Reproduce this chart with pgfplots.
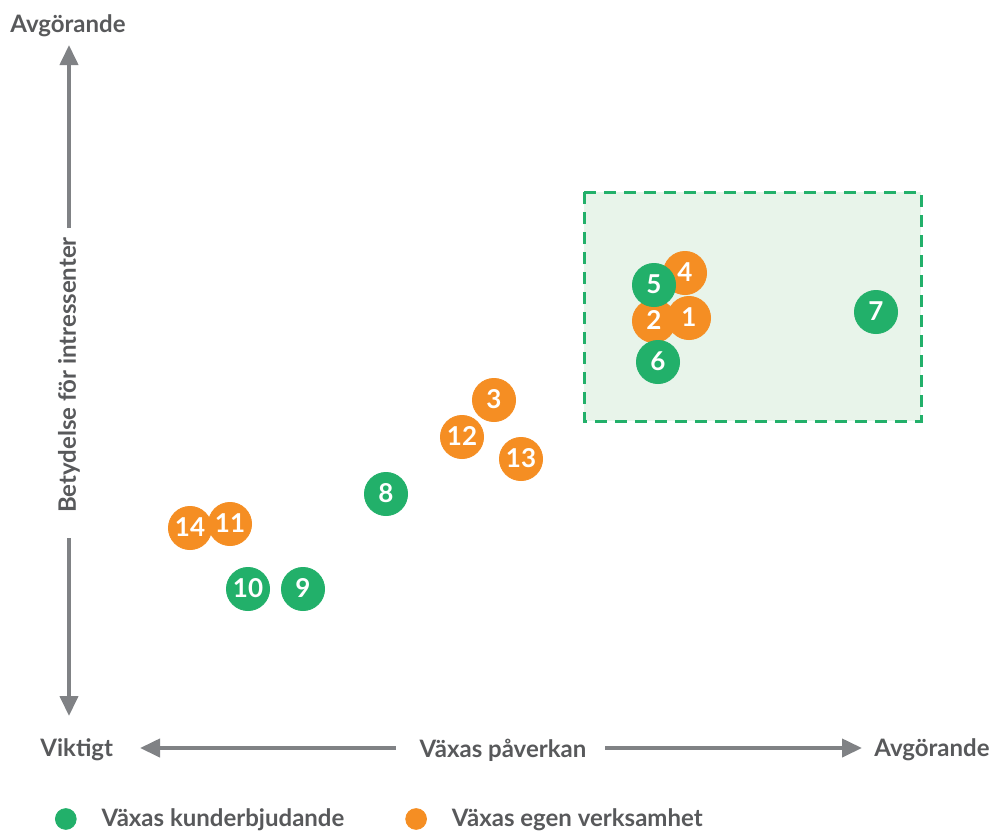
\documentclass[border=0pt]{standalone}
\usepackage{pgfplots}
\pgfplotsset{compat=1.18}
\usepackage{pgfplotstable}
\usepackage{fontspec}
\setmainfont{Lato}
\usetikzlibrary{arrows.meta}

\definecolor{grn}{HTML}{22B06A}
\definecolor{org}{HTML}{F58E23}
\definecolor{zone}{HTML}{E8F4EA}
\definecolor{txt}{HTML}{58595B}
\definecolor{arr}{HTML}{808285}

% positions on the matrix (0..992 across, 0..834 down)
\pgfplotstableread{
x   y   lab
654 321 2
689 318 1
685 273 4
494 400 3
462 437 12
521 459 13
190 528 14
230 524 11
}\egen

\pgfplotstableread{
x   y   lab
654 285 5
658 362 6
876 312 7
386 494 8
303 589 9
248 589 10
}\kund

\begin{document}
\begin{tikzpicture}
\begin{axis}[
    width=496pt, height=417pt,
    scale only axis,
    xmin=0, xmax=992, ymin=0, ymax=834,
    y dir=reverse,
    hide axis,
    clip=false,
    legend columns=2,
    legend style={
        at={(axis description cs:0.049,0.018)}, anchor=west,
        draw=none, fill=none,
        font=\bfseries\fontsize{12}{14}\selectfont, text=txt,
        /tikz/every odd column/.append style={column sep=10.5pt},
        /tikz/every even column/.append style={column sep=28.5pt},
    },
    legend image code/.code={\fill[#1] (6pt,0pt) circle (5.2pt);},
    nodes near coords={\pgfplotspointmeta},
    point meta=explicit symbolic,
    every node near coord/.append style={
        anchor=center, text=white, yshift=0.3pt,
        font=\bfseries\fontsize{13}{15}\selectfont},
]
% keep the whole frame as the picture
\path (axis cs:0,0) rectangle (axis cs:992,834);

% green focus zone
\addplot[draw=grn, line width=1.5pt, dash pattern=on 6pt off 4pt,
    fill=zone, forget plot, nodes near coords={}]
    coordinates {(584,192) (921,192) (921,421) (584,421)} -- cycle;

\addplot[only marks, mark=*, mark size=10.8pt, color=org, forget plot]
    table[x=x, y=y, meta=lab] {\egen};
\addplot[only marks, mark=*, mark size=10.8pt, color=grn, forget plot]
    table[x=x, y=y, meta=lab] {\kund};

\addlegendimage{color=grn}
\addlegendentry{Växas kunderbjudande}
\addlegendimage{color=org}
\addlegendentry{Växas egen verksamhet}

% axis arrows and titles
\draw[arr, line width=2pt, -{Triangle[width=9pt,length=10pt]}]
    (axis cs:69,228) -- (axis cs:69,45);
\draw[arr, line width=2pt, -{Triangle[width=9pt,length=10pt]}]
    (axis cs:69,538) -- (axis cs:69,716);
\draw[arr, line width=2pt, -{Triangle[width=9pt,length=10pt]}]
    (axis cs:396,748) -- (axis cs:140,748);
\draw[arr, line width=2pt, -{Triangle[width=9pt,length=10pt]}]
    (axis cs:605,748) -- (axis cs:862,748);

\tikzset{lbl/.style={text=txt, font=\bfseries\fontsize{12}{14}\selectfont, inner sep=0pt}}
\node[lbl, anchor=west] at (axis cs:10,26) {Avgörande};
\node[lbl, rotate=90] at (axis cs:69,375) {Betydelse för intressenter};
\node[lbl, anchor=west] at (axis cs:40,750) {Viktigt};
\node[lbl] at (axis cs:503,750) {Växas påverkan};
\node[lbl, anchor=east] at (axis cs:990,750) {Avgörande};
\end{axis}
\end{tikzpicture}
\end{document}
